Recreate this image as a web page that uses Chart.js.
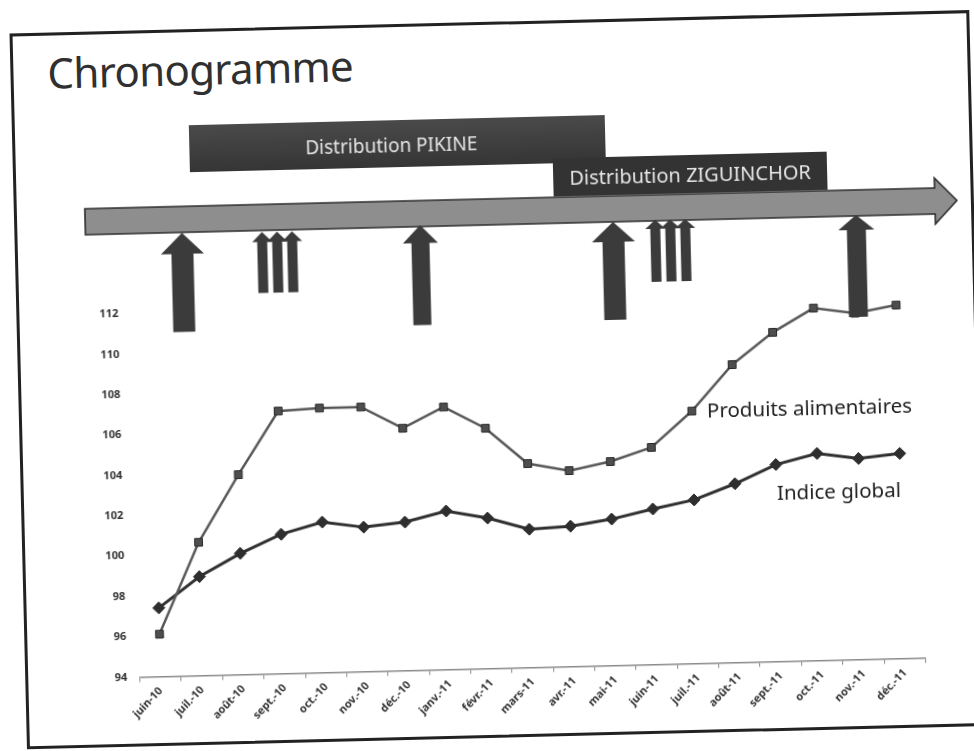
<!DOCTYPE html>
<html>
<head>
<meta charset="utf-8">
<script src="https://cdn.jsdelivr.net/npm/chart.js@4.4.1/dist/chart.umd.min.js"></script>
<style>
  html, body { margin:0; padding:0; background:#fff; width:974px; height:751px; overflow:hidden; }
  #slide { position:absolute; left:0; top:0; width:974px; height:751px;
           transform-origin:487px 375.5px; transform:rotate(-1.4deg); }
  #frame { position:absolute; left:18px; top:22px; width:960px; height:716px;
           border:3px solid #222; box-sizing:border-box; }
  #title { position:absolute; left:55px; top:41px; font-family:"Noto Sans", sans-serif;
           font-size:42px; color:#303030; line-height:1; letter-spacing:-0.7px; }
  canvas#c { position:absolute; left:0; top:0; }
  svg#ov { position:absolute; left:0; top:0; }
  .lbl { position:absolute; font-family:"Noto Sans", sans-serif; font-size:20.5px; color:#222; line-height:1; }
</style>
</head>
<body>
<div id="slide">
  <div id="frame"></div>
  <div id="title">Chronogramme</div>
  <canvas id="c" width="974" height="751"></canvas>
  <svg id="ov" width="974" height="751" xmlns="http://www.w3.org/2000/svg">
    <defs>
      <linearGradient id="gBox" x1="0" y1="0" x2="0" y2="1">
        <stop offset="0" stop-color="#4a4a4a"/><stop offset="1" stop-color="#353535"/>
      </linearGradient>
    </defs>
    <!-- Distribution boxes -->
    <rect x="195" y="118" width="416" height="47" fill="url(#gBox)"/>
    <text x="397" y="150" fill="#e6e6e6" font-family="Noto Sans, sans-serif" font-size="19" text-anchor="middle">Distribution PIKINE</text>
    <!-- timeline band -->
    <path d="M89 199 L939 199 L939 189 L961 212 L939 235 L939 225 L89 225 Z" fill="#8e8e8e" stroke="#2e2e2e" stroke-width="1.6"/>
    <rect x="558" y="160" width="274" height="38" fill="#333"/>
    <text x="695" y="187" fill="#e6e6e6" font-family="Noto Sans, sans-serif" font-size="20" text-anchor="middle">Distribution ZIGUINCHOR</text>
    <g fill="#3b3b3b" id="arrows"></g>
  </svg>
  <div class="lbl" id="l1" style="left:706px; top:405px;">Produits alimentaires</div>
  <div class="lbl" id="l2" style="left:774px; top:489px;">Indice global</div>
</div>
<script>
// ---- data ----
const months = ["juin-10","juil.-10","août-10","sept.-10","oct.-10","nov.-10","déc.-10","janv.-11","févr.-11","mars-11","avr.-11","mai-11","juin-11","juil.-11","août-11","sept.-11","oct.-11","nov.-11","déc.-11"];
const produitsAlimentaires = [96.1,100.6,103.9,107.0,107.1,107.1,106.0,107.0,105.9,104.1,103.7,104.1,104.75,106.5,108.75,110.3,111.45,111.15,111.5];
const indiceGlobal = [97.4,98.9,100.0,100.9,101.45,101.15,101.35,101.85,101.45,100.85,100.95,101.25,101.7,102.1,102.85,103.75,104.25,103.95,104.15];
const yTicks = [94,96,98,100,102,104,106,108,110,112];

// ---- decorative up arrows of the slide ----
const arrows = [
  // tipX, tipY, headHalf, headH, shaftHalf, length
  [185.5,225.6,21.5,21,11,99],
  [265.5,226.5,10,10,5,61],[280.5,226.5,10,10,5,61],[295.5,226.5,10,10,5,61],
  [423.7,223.4,17.5,18,9,100],
  [616.7,225.1,21.5,20,11,98],
  [658.8,224.1,10,9,5,62],[673.8,224.1,10,9,5,62],[688.8,224.1,10,9,5,62],
  [859.8,223.9,18,15,9.5,102]
];
const g = document.getElementById('arrows');
arrows.forEach(([x,y,hh,hH,sh,L])=>{
  const p = document.createElementNS('http://www.w3.org/2000/svg','path');
  p.setAttribute('d',`M${x} ${y} L${x+hh} ${y+hH} L${x+sh} ${y+hH} L${x+sh} ${y+L} L${x-sh} ${y+L} L${x-sh} ${y+hH} L${x-hh} ${y+hH} Z`);
  g.appendChild(p);
});

const font = '"Noto Sans", sans-serif';
new Chart(document.getElementById('c'), {
  type:'line',
  data:{
    labels: months,
    datasets:[
      { label:'Produits alimentaires', data: produitsAlimentaires,
        borderColor:'#585858', borderWidth:2.5, pointStyle:'rect', pointRadius:5.5,
        pointBackgroundColor:'#4e4e4e', pointBorderColor:'#2a2a2a', pointBorderWidth:1, tension:0 },
      { label:'Indice global', data: indiceGlobal,
        borderColor:'#303030', borderWidth:3, pointStyle:'rectRot', pointRadius:6,
        pointBackgroundColor:'#2e2e2e', pointBorderColor:'#2e2e2e', pointBorderWidth:1, tension:0 }
    ]
  },
  options:{
    responsive:false, animation:false,
    layout:{ padding:{ left:92.6, right:55.6, top:305, bottom:22.5 } },
    plugins:{ legend:{display:false}, tooltip:{enabled:false} },
    scales:{
      x:{ offset:true,
          grid:{ display:true, drawOnChartArea:false, drawTicks:true, tickLength:5, offset:true, color:'#8a8a8a' },
          border:{ display:true, color:'#8a8a8a', width:1.5 },
          ticks:{ minRotation:45, maxRotation:45, padding:3, color:'#333', font:{ family:font, size:11, weight:'bold' } },
          afterFit: s => { s.height = 60; } },
      y:{ min:94, max:112,
          afterBuildTicks: s => { s.ticks = yTicks.map(v=>({value:v})); },
          grid:{ display:false, drawTicks:false },
          border:{ display:false },
          ticks:{ padding:12.6, color:'#333', font:{ family:font, size:11, weight:'bold' } },
          afterFit: s => { s.width = 40; } }
    }
  }
});
</script>
</body>
</html>
